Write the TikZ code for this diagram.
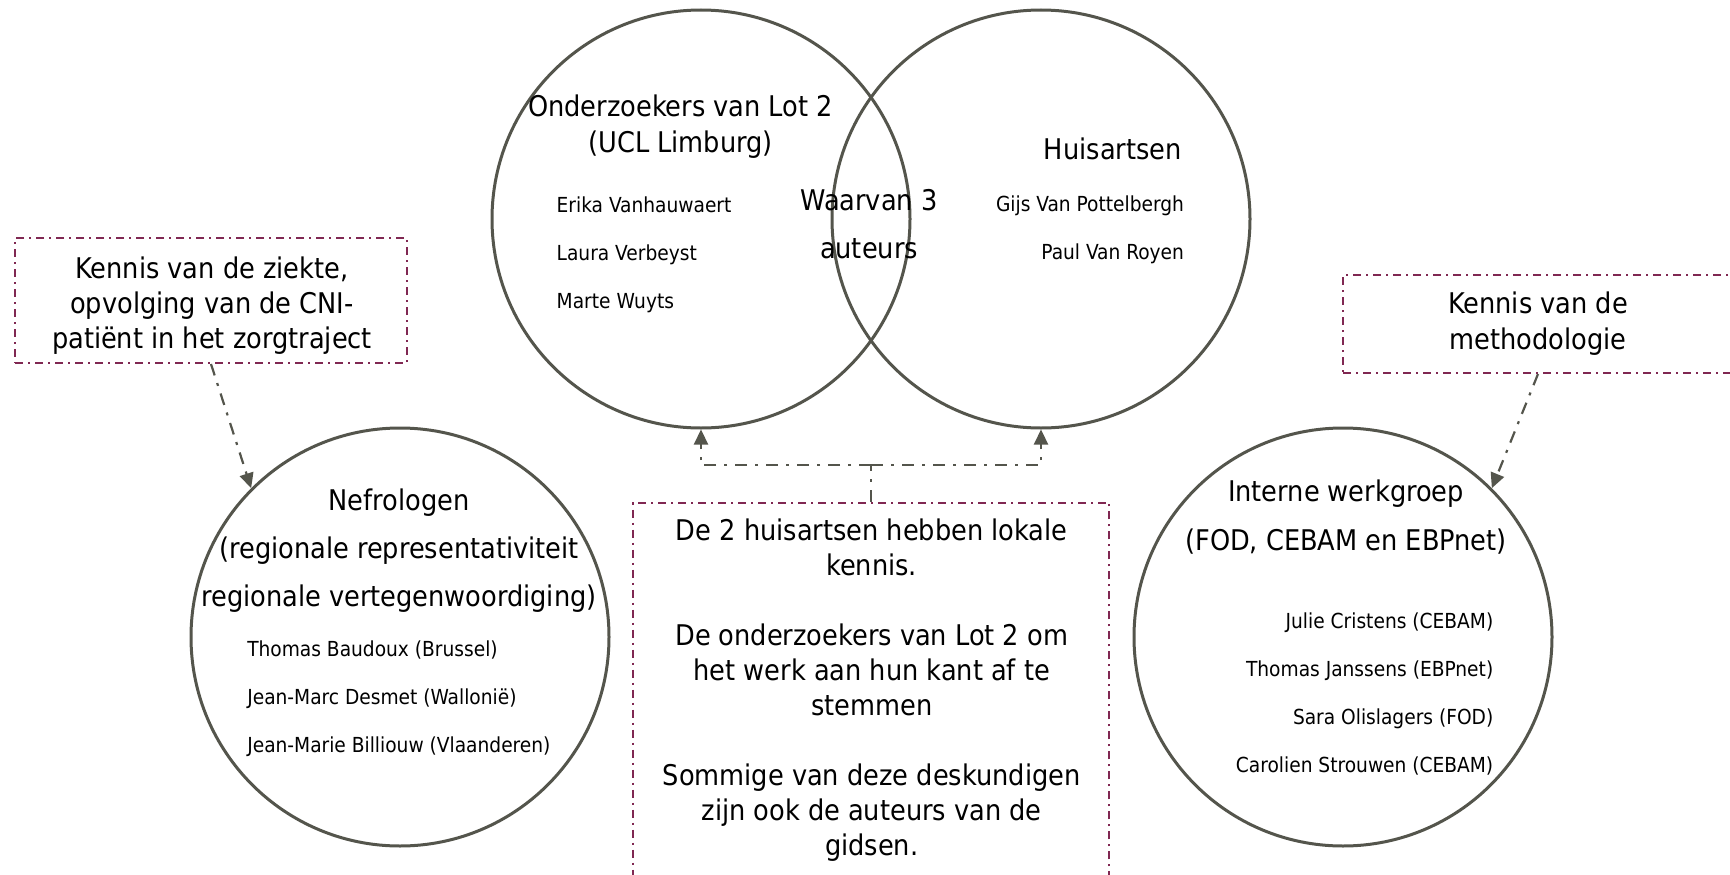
\documentclass[tikz,border=0pt]{standalone}
\usepackage{fontspec}
\setmainfont{DejaVu Sans Condensed}
\usetikzlibrary{arrows.meta}
\definecolor{circ}{RGB}{84,85,76}
\definecolor{boxc}{RGB}{128,40,82}
\newcommand{\mylines}[2]{\begin{tabular}[t]{@{}#1@{}}#2\end{tabular}}
\begin{document}
\begin{tikzpicture}[x=1pt,y=-1pt,
  ring/.style={circle, draw=circ, line width=3pt, minimum size=418pt, inner sep=0pt},
  kbox/.style={draw=boxc, line width=2pt, dash pattern=on 8pt off 5pt on 2pt off 5pt, inner sep=0pt},
  conn/.style={draw=circ, line width=2.2pt, dash pattern=on 12pt off 8pt on 3pt off 8pt},
  tip/.style={-{Triangle[width=14pt,length=15pt]}},
  txt/.style={inner sep=0pt, outer sep=0pt, anchor=base, text=black},
  big/.style={font=\fontsize{28.5}{#1}\selectfont},
  small/.style={font=\fontsize{20.7}{48}\selectfont}]
\useasboundingbox (0,0) rectangle (1730,875);
% circles
\node[ring] (L1) at (701,219) {};
\node[ring] (R1) at (1041,219) {};
\node[ring] (neph) at (400,637) {};
\node[ring] (intern) at (1343,637) {};
% boxes
\node[kbox, minimum width=392pt, minimum height=125pt] (lbox) at (211,300.5) {};
\node[kbox, minimum width=390pt, minimum height=98pt] (rbox) at (1538,324) {};
\node[kbox, minimum width=476.6pt, minimum height=420pt, anchor=north] (cbox) at (871,501.7) {};
% connectors
\draw[conn, tip] (lbox.south) -- (neph.135);
\draw[conn, tip] (rbox.south) -- (intern.45);
\coordinate (cm) at (871,465);
\draw[conn] (cbox.north) -- (cm);
\draw[conn, tip] (cm) -| (L1.south);
\draw[conn, tip] (cm) -| (R1.south);
% texts
\node[txt, big=36] (tL1) at (680.5,116) {\mylines{c}{Onderzoekers van Lot 2\\(UCL Limburg)}};
\node[txt, anchor=base west, small] (nL1) at (556.7,212.7) {\mylines{l}{Erika Vanhauwaert\\Laura Verbeyst\\Marte Wuyts}};
\node[txt, big=47.5] (tW) at (869,210.7) {\mylines{c}{Waarvan 3\\auteurs}};
\node[txt, anchor=base east, big=36] (tR1) at (1181.7,159) {Huisartsen};
\node[txt, anchor=base east, small] (nR1) at (1184,211.7) {\mylines{r}{Gijs Van Pottelbergh\\Paul Van Royen}};
\node[txt, big=48] (tN) at (399,510.7) {\mylines{c}{Nefrologen\\(regionale representativiteit\\regionale vertegenwoordiging)}};
\node[txt, anchor=base west, small] (nN) at (247.3,656.7) {\mylines{l}{Thomas Baudoux (Brussel)\\Jean-Marc Desmet (Wallonië)\\Jean-Marie Billiouw (Vlaanderen)}};
\node[txt, big=48.3] (tI) at (1346,501.7) {\mylines{c}{Interne werkgroep\\(FOD, CEBAM en EBPnet)}};
\node[txt, anchor=base east, small] (nI) at (1493.3,628.3) {\mylines{r}{Julie Cristens (CEBAM)\\Thomas Janssens (EBPnet)\\Sara Olislagers (FOD)\\Carolien Strouwen (CEBAM)}};
\node[txt, big=35] (tl) at (212,278) {\mylines{c}{Kennis van de ziekte,\\opvolging van de CNI-\\patiënt in het zorgtraject}};
\node[txt, big=36] (tr) at (1538,313) {\mylines{c}{Kennis van de\\methodologie}};
\node[txt, big=35] (tc) at (871.7,540) {\mylines{c}{De 2 huisartsen hebben lokale\\kennis.\\ \\De onderzoekers van Lot 2 om\\het werk aan hun kant af te\\stemmen\\ \\Sommige van deze deskundigen\\zijn ook de auteurs van de\\gidsen.}};
\end{tikzpicture}
\end{document}
